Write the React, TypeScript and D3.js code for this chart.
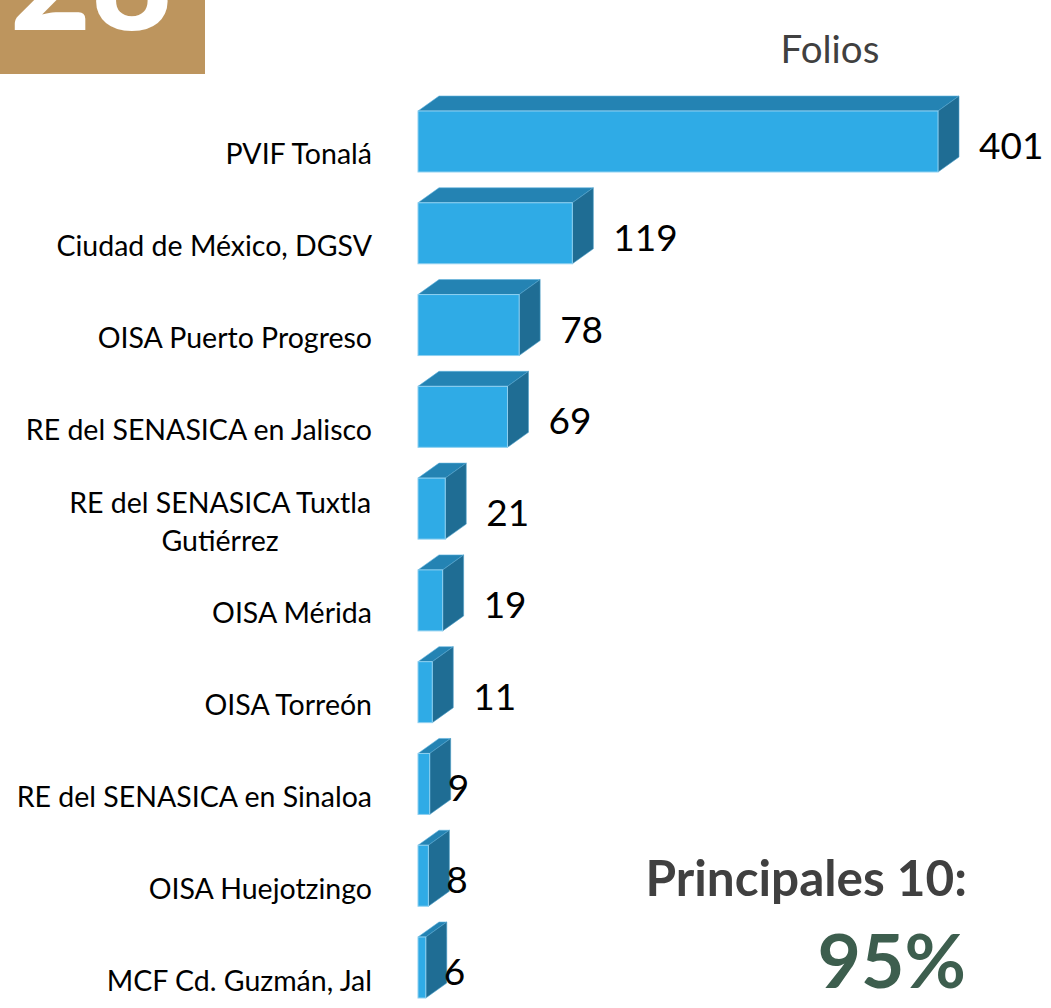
import React from "react";
import * as d3 from "d3";

const categories: string[][] = [
  ["PVIF Tonalá"],
  ["Ciudad de México, DGSV"],
  ["OISA Puerto Progreso"],
  ["RE del SENASICA en Jalisco"],
  ["RE del SENASICA Tuxtla", "Gutiérrez"],
  ["OISA Mérida"],
  ["OISA Torreón"],
  ["RE del SENASICA en Sinaloa"],
  ["OISA Huejotzingo"],
  ["MCF Cd. Guzmán, Jal"],
];
const values: number[] = [401, 119, 78, 69, 21, 19, 11, 9, 8, 6];
const seriesTitle = "Folios";
const summaryLabel = "Principales 10:";
const summaryValue = "95%";
const badgeNumber = "28";

const W = 1051;
const H = 1008;
const DX = 21;
const DY = 15;
const FONT = "Lato, 'Open Sans', sans-serif";
const LABEL_SIZE = 28.5;
const LABEL_RIGHT = 372;

function measure(text: string): number {
  try {
    const c = document.createElement("canvas").getContext("2d");
    if (!c) return text.length * LABEL_SIZE * 0.5;
    c.font = `${LABEL_SIZE}px Lato, 'Open Sans', sans-serif`;
    return c.measureText(text).width;
  } catch {
    return text.length * LABEL_SIZE * 0.5;
  }
}

export default function App() {
  const ids = categories.map((_, i) => String(i));
  const x = d3.scaleLinear().domain([0, 401]).range([418, 938]);
  const y = d3
    .scaleBand<string>()
    .domain(ids)
    .range([111, 998])
    .paddingInner(0.3355)
    .paddingOuter(0);
  const bw = y.bandwidth();

  return (
    <svg
      width={W}
      height={H}
      style={{ position: "absolute", left: 0, top: 0, background: "#fff" }}
      fontFamily={FONT}
    >
      {/* badge */}
      <rect x={0} y={0} width={205} height={74} fill="#BD955E" />
      <text x={10} y={30} fill="#fff" fontSize={140} fontWeight={900} fontFamily={FONT}>
        {badgeNumber}
      </text>

      {/* title */}
      <text x={830} y={63} textAnchor="middle" fontSize={38.5} fill="#404040">
        {seriesTitle}
      </text>

      {values.map((v, i) => {
        const yt = y(String(i))!;
        const yb = yt + bw;
        const x0 = x(0);
        const x1 = x(v);
        const top = `${x0},${yt} ${x0 + DX},${yt - DY} ${x1 + DX},${yt - DY} ${x1},${yt}`;
        const side = `${x1},${yt} ${x1 + DX},${yt - DY} ${x1 + DX},${yb - DY} ${x1},${yb}`;
        const cy = yt + bw / 2;
        const lines = categories[i];
        const lineH = 38;
        const firstBase = cy + 23 - ((lines.length - 1) * lineH) / 2;
        const maxW = lines.length > 1 ? Math.max(...lines.map(measure)) : 0;
        return (
          <g key={i}>
            <polygon points={top} fill="#2483B3" stroke="#5fb4df" strokeWidth={0.6} />
            <polygon points={side} fill="#1F6D94" stroke="#4e9fca" strokeWidth={0.6} />
            <rect x={x0} y={yt} width={x1 - x0} height={bw} fill="#2FABE6" stroke="#8fd0f0" strokeWidth={1} />
            <text
              x={x1 + (v >= 10 ? 41 : 18)}
              y={cy + 3}
              dominantBaseline="central"
              fontSize={37}
              fill="#000"
            >
              {v}
            </text>
            {lines.length === 1 ? (
              <text x={LABEL_RIGHT} y={firstBase} textAnchor="end" fontSize={LABEL_SIZE} fill="#000">
                {lines[0]}
              </text>
            ) : (
              <text textAnchor="middle" fontSize={LABEL_SIZE} fill="#000">
                {lines.map((l, k) => (
                  <tspan key={k} x={LABEL_RIGHT - maxW / 2} y={firstBase + k * lineH}>
                    {l}
                  </tspan>
                ))}
              </text>
            )}
          </g>
        );
      })}

      <text x={967} y={896} textAnchor="end" fontSize={49.5} fontWeight={700} fill="#404040">
        {summaryLabel}
      </text>
      <text x={966} y={988} textAnchor="end" fontSize={75} fontWeight={700} fill="#3D5E4E">
        {summaryValue}
      </text>
    </svg>
  );
}
